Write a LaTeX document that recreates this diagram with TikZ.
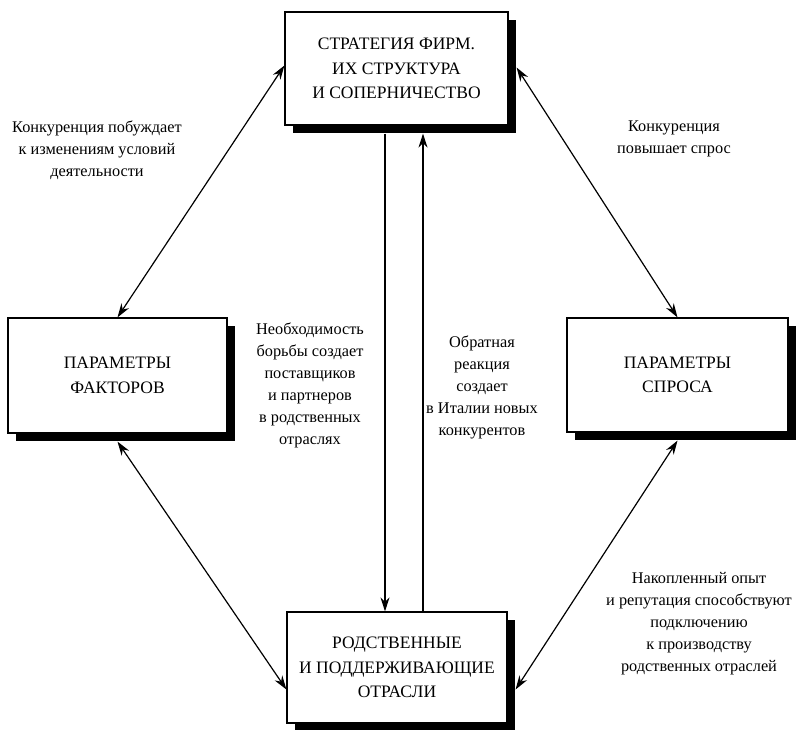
\documentclass[tikz,border=0pt]{standalone}
\usepackage{fontspec}
\setmainfont{Liberation Serif}
\usetikzlibrary{arrows.meta,shadows}
\begin{document}
\begin{tikzpicture}[x=1pt,y=-1pt,
  box/.style={draw=black, line width=1.2pt, fill=white, rectangle, align=center,
    font=\fontsize{17.5}{24.5}\selectfont,
    general shadow={fill=black, shadow xshift=8pt, shadow yshift=-8pt}},
  lbl/.style={align=center, font=\fontsize{16.3}{22}\selectfont, inner sep=0pt},
  con/.style={line width=1.2pt, {Stealth[length=14pt,width=9pt]}-{Stealth[length=14pt,width=9pt]}},
  one/.style={line width=1.2pt, -{Stealth[length=14pt,width=9pt]}}]
\useasboundingbox (0,0) rectangle (803,729);
\node[box, minimum width=223pt, minimum height=113pt] (top) at (396.5,68.5)
  {СТРАТЕГИЯ ФИРМ.\\ ИХ СТРУКТУРА\\ И СОПЕРНИЧЕСТВО};
\node[box, minimum width=219pt, minimum height=115pt] (lft) at (117.5,375.5)
  {ПАРАМЕТРЫ\\ ФАКТОРОВ};
\node[box, minimum width=221pt, minimum height=114pt] (rgt) at (677.5,375)
  {ПАРАМЕТРЫ\\ СПРОСА};
\node[box, minimum width=220pt, minimum height=111pt] (bot) at (397,667.5)
  {РОДСТВЕННЫЕ\\ И ПОДДЕРЖИВАЮЩИЕ\\ ОТРАСЛИ};
\draw[con] ([yshift=3pt]top.west) -- (lft.north);
\draw[con] ([xshift=8pt,yshift=1pt]top.east) -- (rgt.north);
\draw[con] ([yshift=-8pt]lft.south) -- ([yshift=-22pt]bot.west);
\draw[con] ([yshift=-8pt]rgt.south) -- ([xshift=8pt,yshift=-22pt]bot.east);
\draw[one] ([xshift=-11.5pt,yshift=-8pt]top.south) -- ([xshift=-12pt]bot.north);
\draw[one] ([xshift=26pt]bot.north) -- ([xshift=26.5pt,yshift=-8pt]top.south);
\node[lbl] (t1) at (97,150) {Конкуренция побуждает\\ к изменениям условий\\ деятельности};
\node[lbl] (t2) at (674,139) {Конкуренция\\ повышает спрос};
\node[lbl] (t3) at (310,385) {Необходимость\\ борьбы создает\\ поставщиков\\ и партнеров\\ в родственных\\ отраслях};
\node[lbl] (t4) at (482,387) {Обратная\\ реакция\\ создает\\ в Италии новых\\ конкурентов};
\node[lbl] (t5) at (699,624) {Накопленный опыт\\ и репутация способствуют\\ подключению\\ к производству\\ родственных отраслей};
\end{tikzpicture}
\end{document}
